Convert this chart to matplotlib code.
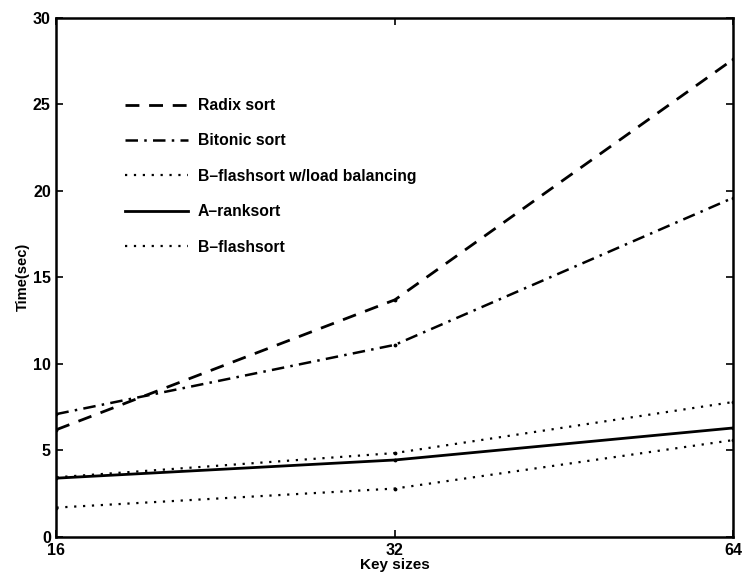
import matplotlib
matplotlib.use("Agg")
import matplotlib.pyplot as plt

plt.rcParams['font.family'] = ['Liberation Sans', 'DejaVu Sans']

key_sizes = [16, 32, 64]
radix = [6.2, 13.7, 27.6]
bitonic = [7.1, 11.1, 19.6]
bflash_lb = [3.45, 4.85, 7.8]
aranksort = [3.4, 4.45, 6.3]
bflash = [1.7, 2.8, 5.6]
labels = ["Radix sort", "Bitonic sort", "B\u2013flashsort w/load balancing", "A\u2013ranksort", "B\u2013flashsort"]
yticks = [0, 5, 10, 15, 20, 25, 30]

fig = plt.figure(figsize=(7.42, 5.85), dpi=100)
ax = fig.add_axes([0.076, 0.082, 0.9125, 0.888])

ax.plot(key_sizes, radix, color='black', lw=2.0, dashes=(5, 3.5), marker='.', ms=3.5, label=labels[0])
ax.plot(key_sizes, bitonic, color='black', lw=1.8, dashes=(5, 2.5, 1, 2.5), marker='.', ms=3.5, label=labels[1])
ax.plot(key_sizes, bflash_lb, color='black', lw=1.6, dashes=(1, 3.0), marker='.', ms=3.5, label=labels[2])
ax.plot(key_sizes, aranksort, color='black', lw=2.0, linestyle='-', marker='.', ms=3.5, label=labels[3])
ax.plot(key_sizes, bflash, color='black', lw=1.6, dashes=(1, 3.0), marker='.', ms=3.5, label=labels[4])

ax.set_xscale('log', base=2)
ax.set_xlim(16, 64)
ax.set_ylim(0, 30)
ax.set_xticks(key_sizes)
ax.set_xticklabels([str(k) for k in key_sizes])
ax.minorticks_off()
ax.set_yticks(yticks)
ax.tick_params(direction='in', top=True, right=True, length=5, width=1.2, labelsize=11.5, pad=4)
for lab in ax.get_xticklabels() + ax.get_yticklabels():
    lab.set_fontweight('bold')
for s in ax.spines.values():
    s.set_linewidth(1.8)

ax.set_xlabel("Key sizes", fontsize=11, fontweight='bold', labelpad=0)
ax.set_ylabel("Time(sec)", fontsize=10.5, fontweight='bold', labelpad=2)

leg = ax.legend(loc='upper left', bbox_to_anchor=(0.101, 0.845), frameon=False,
                fontsize=11.3, handlelength=4.0, handletextpad=0.65, labelspacing=1.3,
                borderpad=0, borderaxespad=0)
for t in leg.get_texts():
    t.set_fontweight('bold')
for h in leg.legend_handles:
    h.set_marker('')

fig.savefig("out.png", dpi=100)
